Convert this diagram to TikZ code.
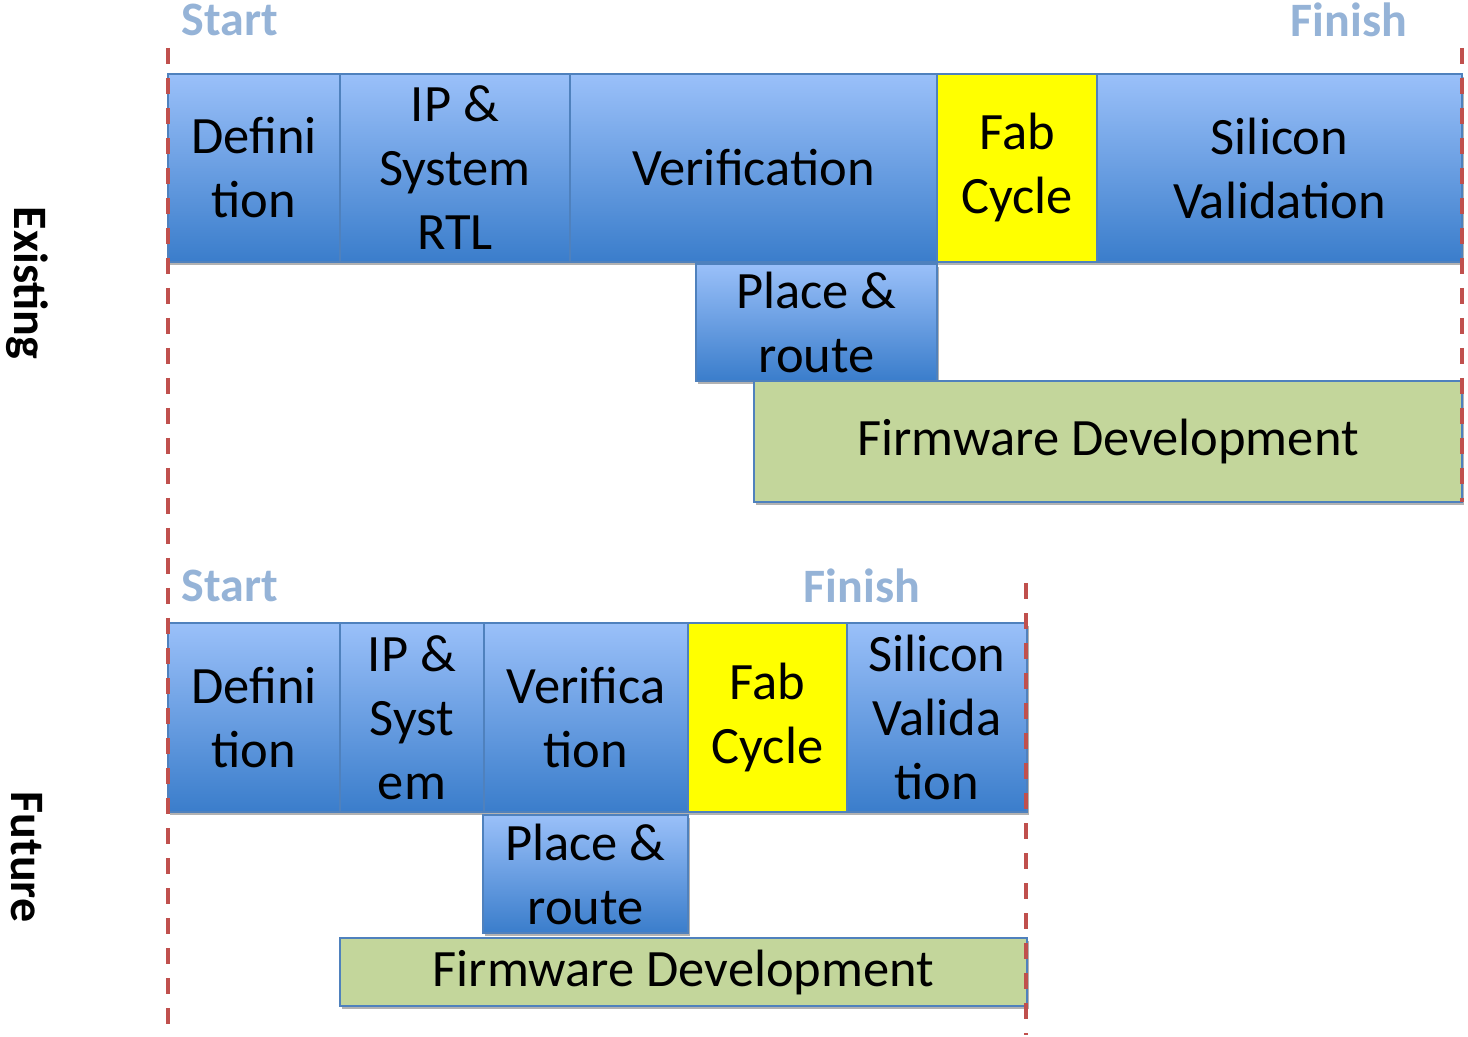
\documentclass[tikz,border=0pt]{standalone}
\usepackage{fontspec}
\setmainfont{Carlito}
\usetikzlibrary{shadows}
\definecolor{boxtop}{RGB}{154,192,249}
\definecolor{boxbot}{RGB}{58,125,203}
\definecolor{boxline}{RGB}{79,129,189}
\definecolor{fabfill}{RGB}{255,255,0}
\definecolor{fwfill}{RGB}{195,214,155}
\definecolor{milestone}{RGB}{149,179,215}
\definecolor{limitred}{RGB}{192,80,77}
\tikzset{
  phase/.style={draw=boxline, line width=0.75pt, inner sep=0pt, align=center,
    font=\fontsize{26.25}{32}\selectfont,
    drop shadow={shadow xshift=1pt, shadow yshift=-1.5pt, opacity=0.3, fill=black}},
  bluephase/.style={phase, top color=boxtop, bottom color=boxbot},
  fabphase/.style={phase, fill=fabfill},
  fwphase/.style={phase, fill=fwfill},
  milestonelabel/.style={text=milestone, font=\fontsize{24}{29}\selectfont\bfseries},
  rowlabel/.style={font=\fontsize{24}{29}\selectfont\bfseries, rotate=-90},
  limitline/.style={draw=limitred, line width=2pt, dash pattern=on 8pt off 7pt}
}
\begin{document}
\begin{tikzpicture}[x=0.5pt, y=-0.5pt]
\useasboundingbox (0,0) rectangle (1468,1037);

% Existing flow
\node[bluephase, minimum width=86pt,    minimum height=94pt] (def1) at (254,168) {Defini\\tion};
\node[bluephase, minimum width=115pt,   minimum height=94pt] (ip1)  at (455,168) {IP \&\\System\\RTL};
\node[bluephase, minimum width=183.5pt, minimum height=94pt] (ver1) at (753.5,168) {Verification};
\node[fabphase,  minimum width=80pt,    minimum height=94pt] (fab1) at (1017,168) {Fab\\Cycle};
\node[bluephase, minimum width=182.5pt, minimum height=94pt] (sil1) at (1279.5,168) {Silicon\\Validation};
\node[bluephase, minimum width=120.5pt, minimum height=58.5pt] (pr1) at (816.5,322.5) {Place \&\\route};
\node[fwphase,   minimum width=354pt,   minimum height=60.5pt] (fw1) at (1108,441.5) {Firmware Development};

% Future flow
\node[bluephase, minimum width=86pt,   minimum height=94.5pt] (def2) at (254,717.5) {Defini\\tion};
\node[bluephase, minimum width=72pt,   minimum height=94.5pt] (ip2)  at (412,717.5) {IP \&\\Syst\\em};
\node[bluephase, minimum width=102pt,  minimum height=94.5pt] (ver2) at (586,717.5) {Verifica\\tion};
\node[fabphase,  minimum width=79.5pt, minimum height=94.5pt] (fab2) at (767.5,717.5) {Fab\\Cycle};
\node[bluephase, minimum width=90pt,   minimum height=94.5pt] (sil2) at (937,717.5) {Silicon\\Valida\\tion};
\node[bluephase, minimum width=102.5pt, minimum height=59pt] (pr2) at (585.5,874) {Place \&\\route};
\node[fwphase,   minimum width=343.5pt, minimum height=34pt] (fw2) at (683.5,972) {Firmware Development};

% Milestone labels
\node[milestonelabel] (start1)  at (230,20)  {Start};
\node[milestonelabel] (finish1) at (1349,20) {Finish};
\node[milestonelabel] (start2)  at (230,586) {Start};
\node[milestonelabel] (finish2) at (862,586) {Finish};

% Row labels
\node[rowlabel] (existing) at (27,283) {Existing};
\node[rowlabel] (future)   at (27,857) {Future};

% Start / finish limits
\coordinate (lstartT) at (168,48);
\coordinate (lstartB) at (168,1035);
\coordinate (lfin1T) at (1462,48);
\coordinate (lfin1B) at (1462,502);
\coordinate (lfin2T) at (1026,583);
\coordinate (lfin2B) at (1026,1035);
\draw[limitline] (lstartT) -- (lstartB);
\draw[limitline] (lfin1T) -- (lfin1B);
\draw[limitline] (lfin2T) -- (lfin2B);
\end{tikzpicture}
\end{document}
